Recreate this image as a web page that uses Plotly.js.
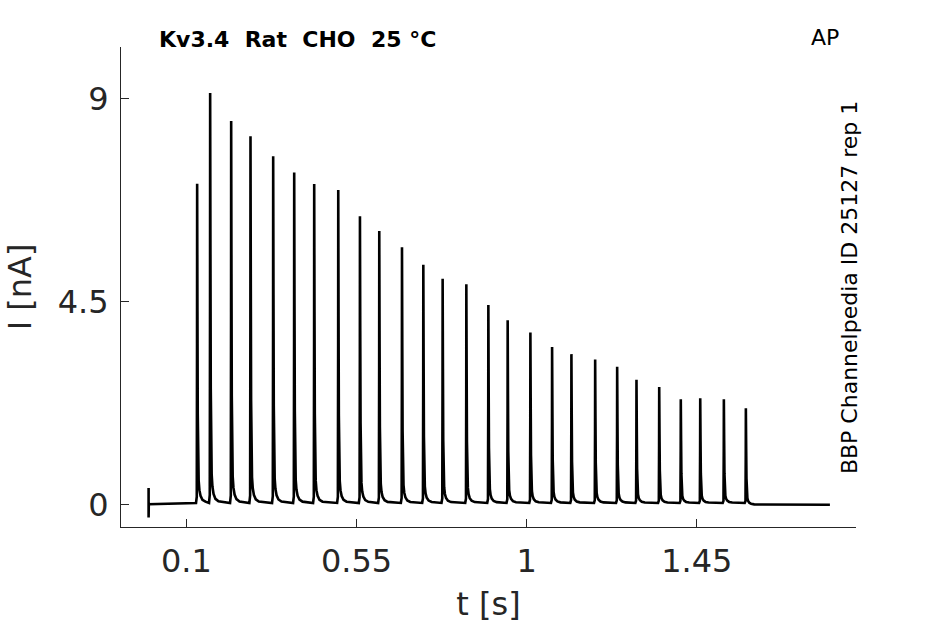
<!DOCTYPE html>
<html>
<head>
<meta charset="utf-8">
<script src="https://cdn.plot.ly/plotly-3.0.1.min.js"></script>
<style>
  html, body { margin: 0; padding: 0; background: #fff; }
  #chart { width: 945px; height: 624px; }
</style>
</head>
<body>
<div id="chart"></div>
<script>
// spike peak times [s] and peak currents [nA]
var spike_times = [0.1284, 0.1628, 0.2184, 0.2695, 0.3295, 0.3851, 0.4380, 0.5016, 0.5590,
  0.6101, 0.6702, 0.7266, 0.7777, 0.8404, 0.8986, 0.9497, 1.0098, 1.0672, 1.1183,
  1.1811, 1.2393, 1.2904, 1.3505, 1.4076, 1.4590, 1.5215, 1.5797];
var spike_peaks = [7.08, 9.09, 8.47, 8.13, 7.69, 7.33, 7.07, 6.94, 6.36,
  6.03, 5.67, 5.28, 4.97, 4.85, 4.39, 4.05, 3.78, 3.46, 3.30,
  3.18, 3.02, 2.73, 2.57, 2.30, 2.32, 2.30, 2.10];

// shape of one spike: time from peak [ms] and fraction of the peak
var shape_ms = [-3, -1, -0.3, 0, 0.8, 1.6, 2.5, 4, 6, 9, 14, 22];
var shape_frac = [0, 0.02, 0.5, 1, 0.6, 0.28, 0.12, 0.07, 0.04, 0.022, 0.01, 0.004];

// stimulus artifact at t = 0, level during the train, end of record
var artifact_high = 0.36;
var artifact_low = -0.29;
var train_level = 0.03;
var rest_level = -0.01;
var record_end = 1.802;

var tick_x = [0.1, 0.55, 1, 1.45];
var tick_y = [0, 4.5, 9];

var t = [], I = [];
t.push(0, 0, 0.0005); I.push(artifact_high, artifact_low, 0);

for (var i = 0; i < spike_times.length; i++) {
    var last = (i == spike_times.length - 1);
    for (var k = 0; k < shape_ms.length; k++) {
        // the last spike relaxes to rest instead of the train level
        var base = (last && shape_ms[k] > 0) ? rest_level : train_level;
        t.push(spike_times[i] + shape_ms[k] / 1000);
        I.push(base + spike_peaks[i] * shape_frac[k]);
    }
}
t.push(record_end);
I.push(rest_level);

var trace = {
    x: t,
    y: I,
    type: 'scatter',
    mode: 'lines',
    line: { color: '#000000', width: 2.6 },
    hoverinfo: 'skip'
};

var axis_font = { family: 'DejaVu Sans, sans-serif', size: 32, color: '#262626' };

var layout = {
    width: 945,
    height: 624,
    margin: { l: 121, r: 89, t: 47, b: 97 },
    paper_bgcolor: '#ffffff',
    plot_bgcolor: '#ffffff',
    showlegend: false,
    xaxis: {
        range: [-0.073, 1.871],
        tickvals: tick_x,
        ticktext: ['0.1', '0.55', '1', '1.45'],
        ticks: 'inside',
        ticklen: 8,
        tickcolor: '#262626',
        ticklabelstandoff: 6,
        showgrid: false,
        zeroline: false,
        showline: true,
        linecolor: '#262626',
        linewidth: 1,
        tickfont: axis_font,
        title: { text: 't [s]', font: axis_font, standoff: 13 }
    },
    yaxis: {
        range: [-0.503, 10.14],
        tickvals: tick_y,
        ticktext: ['0', '4.5', '9'],
        ticks: 'inside',
        ticklen: 8,
        tickcolor: '#262626',
        ticklabelstandoff: 5,
        showgrid: false,
        zeroline: false,
        showline: true,
        linecolor: '#262626',
        linewidth: 1,
        tickfont: axis_font,
        title: { text: 'I [nA]', font: axis_font, standoff: 16 }
    },
    annotations: [
        {
            text: '<b>Kv3.4  Rat  CHO  25 °C</b>',
            xref: 'paper', yref: 'paper', x: 0.049, y: 1.015,
            xanchor: 'left', yanchor: 'middle', showarrow: false,
            font: { family: 'DejaVu Sans, sans-serif', size: 22, color: '#000000' }
        },
        {
            text: 'AP',
            xref: 'paper', yref: 'paper', x: 0.958, y: 1.019,
            xanchor: 'center', yanchor: 'middle', showarrow: false,
            font: { family: 'DejaVu Sans, sans-serif', size: 22, color: '#000000' }
        },
        {
            text: 'BBP Channelpedia ID 25127 rep 1',
            xref: 'paper', yref: 'paper', x: 0.992, y: 0.498,
            xanchor: 'center', yanchor: 'middle', showarrow: false, textangle: -90,
            font: { family: 'DejaVu Sans, sans-serif', size: 22, color: '#000000' }
        }
    ]
};

Plotly.newPlot('chart', [trace], layout, { displayModeBar: false, staticPlot: true });
</script>
</body>
</html>
